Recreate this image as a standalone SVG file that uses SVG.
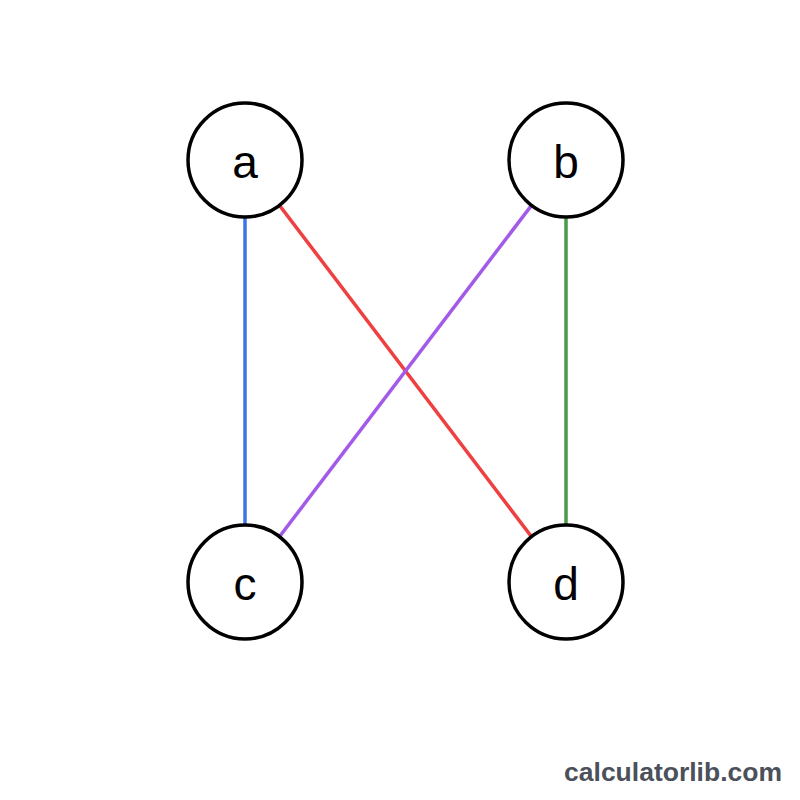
<svg xmlns="http://www.w3.org/2000/svg" width="800" height="800" viewBox="0 0 800 800">
<style>
.node circle{fill:#fff;stroke:#000;stroke-width:3.5}
.node text{font-family:"Liberation Sans",Arial,sans-serif;font-size:46px;fill:#000;text-anchor:middle;dominant-baseline:central}
.edge{stroke-width:3.5;fill:none}
.wm{font-family:"Liberation Sans",Arial,sans-serif;font-size:26.5px;font-weight:bold;fill:#4b505a;text-anchor:end}
</style>
<rect width="800" height="800" fill="#fff"/>
<g id="edges">
<line class="edge" x1="245" y1="160" x2="245" y2="582" stroke="#3a74e6"/>
<line class="edge" x1="245" y1="160" x2="566" y2="582" stroke="#ee4040"/>
<line class="edge" x1="566" y1="160" x2="245" y2="582" stroke="#a35ae8"/>
<line class="edge" x1="566" y1="160" x2="566" y2="582" stroke="#4a9a48"/>
</g>
<g id="a" class="node"><circle cx="245" cy="160" r="57"/><text x="245" y="162">a</text></g>
<g id="b" class="node"><circle cx="566" cy="160" r="57"/><text x="566" y="162">b</text></g>
<g id="c" class="node"><circle cx="245" cy="582" r="57"/><text x="245" y="584">c</text></g>
<g id="d" class="node"><circle cx="566" cy="582" r="57"/><text x="566" y="584">d</text></g>
<text class="wm" x="782" y="781">calculatorlib.com</text>
</svg>
